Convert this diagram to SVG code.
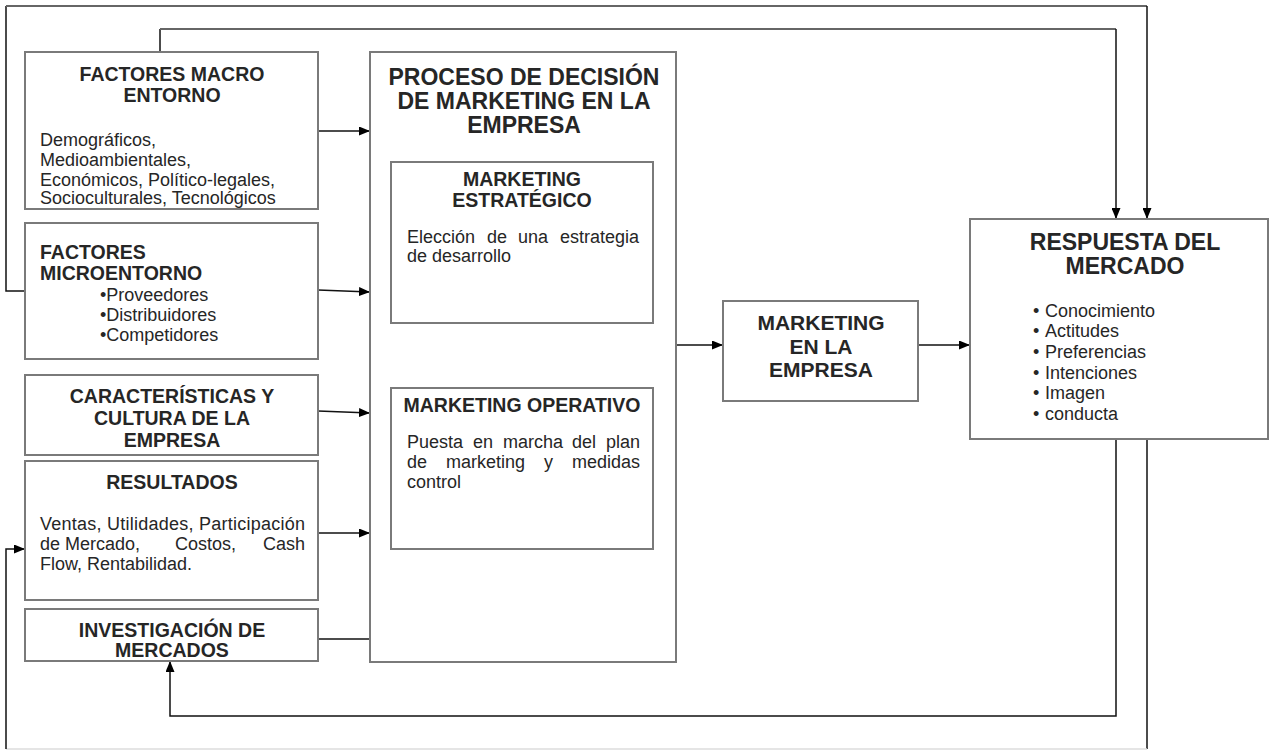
<svg xmlns="http://www.w3.org/2000/svg" width="1270" height="751" viewBox="0 0 1270 751">
<defs>
<style>
.box{fill:#fff;stroke:#7a7a7a;stroke-width:2}
.h{font-family:"Liberation Sans",Arial,sans-serif;font-weight:bold;font-size:19.5px;fill:#262626;text-anchor:middle}
.t{font-family:"Liberation Sans",Arial,sans-serif;font-weight:bold;font-size:23px;fill:#262626;text-anchor:middle}
.b{font-family:"Liberation Sans",Arial,sans-serif;font-size:18px;fill:#262626}
.e{text-anchor:end}
.c{fill:none;stroke:#111;stroke-width:1.5}
.g{fill:none;stroke:#666;stroke-width:2}
.f{fill:none;stroke:#ddd;stroke-width:1.5}
</style>
<marker id="arr" markerUnits="userSpaceOnUse" markerWidth="11" markerHeight="9" refX="11" refY="4.5" orient="auto">
<path d="M0,0 L11,4.5 L0,9 z" fill="#000"/>
</marker>
</defs>
<rect width="1270" height="751" fill="#fff"/>

<g id="connectors">
<g id="c-macro-resp">
<path class="c" d="M160,52 V29"/>
<path class="g" d="M160,29 H1116"/>
<path class="c" d="M1116,29 V219" marker-end="url(#arr)"/>
</g>
<g id="c-micro-resp">
<path class="c" d="M25,291 H6 V6"/>
<path class="g" d="M6,6 H1147"/>
<path class="c" d="M1147,6 V219" marker-end="url(#arr)"/>
</g>
<path class="c" d="M318,131 L370,131" marker-end="url(#arr)"/>
<path class="c" d="M318,290 L370,292" marker-end="url(#arr)"/>
<path class="c" d="M318,411 L370,413" marker-end="url(#arr)"/>
<path class="c" d="M318,533 L370,533" marker-end="url(#arr)"/>
<path class="c" d="M318,639 L370,639"/>
<path class="c" d="M676,345 L723,345" marker-end="url(#arr)"/>
<path class="c" d="M918,345 L970,345" marker-end="url(#arr)"/>
<path class="c" d="M1116,439 V716 H170 V661" marker-end="url(#arr)"/>
<g id="c-resp-result">
<path class="c" d="M1147,439 V749"/>
<path class="f" d="M1147,749 H6"/>
<path class="c" d="M6,749 V549 H25" marker-end="url(#arr)"/>
</g>
</g>

<g id="macro">
<rect class="box" x="25" y="52" width="293" height="157"/>
<text class="h" x="172" y="81">FACTORES MACRO</text>
<text class="h" x="172" y="102">ENTORNO</text>
<text class="b" x="40" y="146">Demográficos,</text>
<text class="b" x="40" y="166">Medioambientales,</text>
<text class="b" x="40" y="186">Económicos, Político-legales,</text>
<text class="b" x="40" y="204">Socioculturales, Tecnológicos</text>
</g>

<g id="micro">
<rect class="box" x="25" y="223" width="293" height="136"/>
<text class="h" x="40" y="259" style="text-anchor:start">FACTORES</text>
<text class="h" x="40" y="280" style="text-anchor:start">MICROENTORNO</text>
<text class="b" x="100" y="301">•Proveedores</text>
<text class="b" x="100" y="321">•Distribuidores</text>
<text class="b" x="100" y="341">•Competidores</text>
</g>

<g id="caracteristicas">
<rect class="box" x="25" y="375" width="293" height="80"/>
<text class="h" x="172" y="403">CARACTERÍSTICAS Y</text>
<text class="h" x="172" y="425">CULTURA DE LA</text>
<text class="h" x="172" y="447">EMPRESA</text>
</g>

<g id="resultados">
<rect class="box" x="25" y="461" width="293" height="139"/>
<text class="h" x="172" y="489">RESULTADOS</text>
<text class="b" x="40" y="530" textLength="265" lengthAdjust="spacing">Ventas, Utilidades, Participación</text>
<text class="b" x="40" y="550">de Mercado,</text>
<text class="b" x="175" y="550">Costos,</text>
<text class="b e" x="305" y="550">Cash</text>
<text class="b" x="40" y="570">Flow, Rentabilidad.</text>
</g>

<g id="investigacion">
<rect class="box" x="25" y="609" width="293" height="52"/>
<text class="h" x="172" y="637">INVESTIGACIÓN DE</text>
<text class="h" x="172" y="657">MERCADOS</text>
</g>

<g id="proceso">
<rect class="box" x="370" y="52" width="306" height="610"/>
<text class="t" x="524" y="85">PROCESO DE DECISIÓN</text>
<text class="t" x="524" y="109">DE MARKETING EN LA</text>
<text class="t" x="524" y="133">EMPRESA</text>
</g>

<g id="estrategico">
<rect class="box" x="391" y="162" width="262" height="161"/>
<text class="h" x="522" y="186">MARKETING</text>
<text class="h" x="522" y="207">ESTRATÉGICO</text>
<text class="b" x="407" y="243">Elección</text>
<text class="b" x="487" y="243">de</text>
<text class="b" x="518" y="243">una</text>
<text class="b e" x="639" y="243">estrategia</text>
<text class="b" x="407" y="262">de desarrollo</text>
</g>

<g id="operativo">
<rect class="box" x="391" y="388" width="262" height="161"/>
<text class="h" x="522" y="412">MARKETING OPERATIVO</text>
<text class="b" x="407" y="448">Puesta</text>
<text class="b" x="473" y="448">en</text>
<text class="b" x="503" y="448">marcha</text>
<text class="b" x="572" y="448">del</text>
<text class="b e" x="640" y="448">plan</text>
<text class="b" x="407" y="468">de</text>
<text class="b" x="446" y="468">marketing</text>
<text class="b" x="544" y="468">y</text>
<text class="b e" x="640" y="468">medidas</text>
<text class="b" x="407" y="488">control</text>
</g>

<g id="mkt-empresa">
<rect class="box" x="723" y="301" width="195" height="100"/>
<text class="h" x="821" y="330" style="font-size:21px">MARKETING</text>
<text class="h" x="821" y="354" style="font-size:21px">EN LA</text>
<text class="h" x="821" y="377" style="font-size:21px">EMPRESA</text>
</g>

<g id="respuesta">
<rect class="box" x="970" y="219" width="298" height="220"/>
<text class="t" x="1125" y="250">RESPUESTA DEL</text>
<text class="t" x="1125" y="274">MERCADO</text>
<text class="b" y="317"><tspan x="1033">•</tspan><tspan x="1045">Conocimiento</tspan></text>
<text class="b" y="337"><tspan x="1033">•</tspan><tspan x="1045">Actitudes</tspan></text>
<text class="b" y="358"><tspan x="1033">•</tspan><tspan x="1045">Preferencias</tspan></text>
<text class="b" y="379"><tspan x="1033">•</tspan><tspan x="1045">Intenciones</tspan></text>
<text class="b" y="399"><tspan x="1033">•</tspan><tspan x="1045">Imagen</tspan></text>
<text class="b" y="420"><tspan x="1033">•</tspan><tspan x="1045">conducta</tspan></text>
</g>
</svg>
